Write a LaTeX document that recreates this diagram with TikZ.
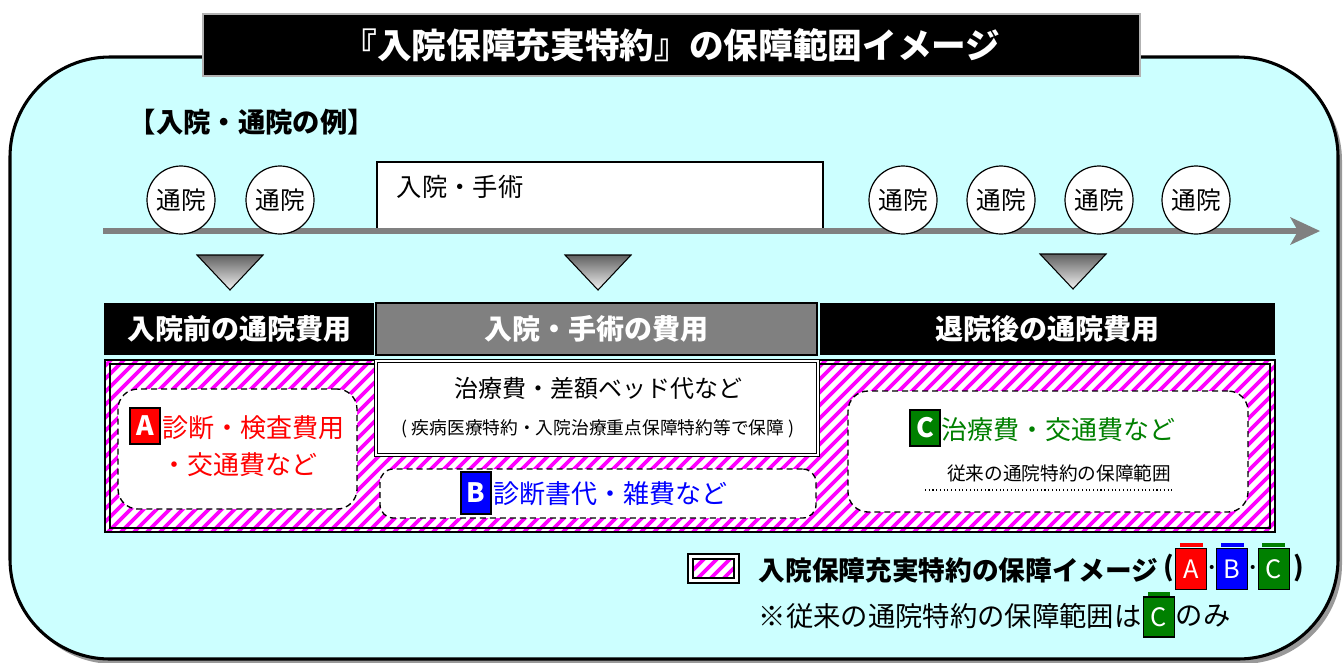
\documentclass[tikz,border=0pt]{standalone}
\usepackage{fontspec}
\setmainfont{Noto Sans CJK JP}
\usetikzlibrary{fit}
\definecolor{bgcyan}{RGB}{204,255,255}
\definecolor{mag}{RGB}{255,0,255}
\definecolor{cgreen}{RGB}{0,128,0}
\definecolor{tlgray}{RGB}{128,128,128}
\newcommand\fsz[1]{\fontsize{#1}{#1}\selectfont}
\begin{document}
\begin{tikzpicture}[x=0.75pt,y=-0.75pt,
  box/.style={inner sep=0pt, outer sep=0pt},
  hdr/.style={box, fill=black},
  hdrtext/.style={text=white, font=\bfseries\fsz{21pt}},
  visit/.style={circle, draw, fill=white, line width=0.9pt, minimum size=51pt, inner sep=0pt, font=\fsz{18.5pt}},
  tri/.style={top color=black!62, bottom color=black!5, draw=black, line width=0.8pt},
  dbox/.style={box, draw, fill=white, dash pattern=on 4.5pt off 3pt, line width=1pt, rounded corners=15pt},
  badge/.style={draw=black, line width=1.3pt, inner sep=0pt, text=white, font=\bfseries\fsz{20pt}, minimum width=22.5pt, minimum height=27pt},
  lbadge/.style={draw=black, line width=1.1pt, inner sep=0pt, text=white, font=\fsz{19pt}, minimum width=23pt, minimum height=31pt},
  hatchline/.style={mag, line width=2.8pt}
]
\useasboundingbox (0,0) rectangle (1344,662);
% background panel
\node[fit={(14,61)(1342,664)}, box, fill=black!40, rounded corners=75pt] (shadow) {};
\node[fit={(10,57)(1338,659)}, box, draw, line width=2.3pt, fill=bgcyan, rounded corners=75pt] (bg) {};
% title
\node[fit={(203,14)(1140,76)}, box, fill=black, draw=black!30, line width=1.5pt] (title) {};
\node[text=white, font=\bfseries\fsz{26pt}] (titletxt) at (title.center) {『入院保障充実特約』の保障範囲イメージ};
% example label
\node[anchor=west, font=\bfseries\fsz{20.5pt}] (ex) at (124,122) {【入院・通院の例】};
% surgery box
\node[fit={(377,162)(823,231)}, box, draw, fill=white, line width=1pt] (surg) {};
\node[anchor=west, font=\fsz{19pt}] (surgtxt) at (392,187) {入院・手術};
% timeline
\coordinate (tl0) at (103,231);
\coordinate (tl1) at (1298,231);
\draw[tlgray, line width=3.8pt] (tl0) -- (tl1);
\fill[tlgray] (1290,217) -- (1320,231) -- (1290,245) -- (1298,231) -- cycle;
% visits
\node[visit] (v1) at (181,200) {通院};
\node[visit] (v2) at (280,200) {通院};
\node[visit] (v3) at (903,200) {通院};
\node[visit] (v4) at (1001,200) {通院};
\node[visit] (v5) at (1099,200) {通院};
\node[visit] (v6) at (1196,200) {通院};
% triangles
\shadedraw[tri] (197,255) -- (263,255) -- (230,290) -- cycle;
\shadedraw[tri] (565,255) -- (631,255) -- (598,290) -- cycle;
\shadedraw[tri] (1040,254) -- (1106,254) -- (1073,289) -- cycle;
% headers
\node[fit={(104,303)(374,355)}, hdr] (h1) {};
\node[hdrtext] (h1t) at (h1.center) {入院前の通院費用};
\node[fit={(376,303)(817,355)}, box, fill=tlgray, draw=black, line width=1pt] (h2) {};
\node[hdrtext] (h2t) at (h2.center) {入院・手術の費用};
\node[fit={(820,303)(1275,355)}, hdr] (h3) {};
\node[hdrtext] (h3t) at (h3.center) {退院後の通院費用};
% hatched region
\fill[white] (105,360) rectangle (1275,532);
\begin{scope}
\clip (105,360) rectangle (1275,532);
\foreach \xx in {-95,-82,...,1280} \draw[hatchline] (\xx,540) -- ++(190,-190);
\end{scope}
\draw[line width=0.9pt] (105,360) rectangle (1275,532);
\draw[line width=0.9pt] (110,364) rectangle (1270,528);
% middle box
\node[fit={(376,361)(818,455)}, box, fill=white, draw=black, double=white, double distance=1.5pt, line width=0.8pt] (mid) {};
\node[font=\fsz{18pt}] (m1) at (598,388) {治療費・差額ベッド代など};
\node[font=\fsz{13.3pt}] (m2) at (598,429) {( 疾病医療特約・入院治療重点保障特約等で保障 )};
% dashed boxes
\node[fit={(118,389)(357,509)}, dbox] (boxA) {};
\node[fit={(380,469)(816,518)}, dbox, rounded corners=10pt] (boxB) {};
\node[fit={(848,391)(1248,512)}, dbox] (boxC) {};
% A
\node[badge, fill=red] (bA) at (145,426) {A};
\node[anchor=west, text=red, font=\fsz{19.5pt}] (tA1) at (158,428) {診断・検査費用};
\node[text=red, font=\fsz{19.5pt}] (tA2) at (239,465) {・交通費など};
% B
\node[badge, fill=blue, minimum height=32pt] (bB) at (476,493) {B};
\node[anchor=west, text=blue, font=\fsz{19.5pt}] (tB) at (489,494) {診断書代・雑費など};
% C
\node[badge, fill=cgreen] (bC) at (925,428) {C};
\node[anchor=west, text=cgreen, font=\fsz{19.5pt}] (tC) at (937,430) {治療費・交通費など};
\node[font=\fsz{14pt}] (tC2) at (1059,473) {従来の通院特約の保障範囲};
\draw[dotted, line width=0.8pt] (925,490) -- (1174,490);
% legend
\fill[white] (688,554) rectangle (739,583);
\draw[line width=0.9pt] (688,554) rectangle (739,583);
\begin{scope}
\clip (693,559) rectangle (734,578);
\foreach \xx in {665,678,...,740} \draw[hatchline] (\xx,585) -- ++(30,-30);
\end{scope}
\draw[line width=0.9pt] (693,559) rectangle (734,578);
\node[anchor=west, font=\bfseries\fsz{20pt}] (leg1) at (754,570) {入院保障充実特約の保障イメージ};
\node[font=\bfseries\fsz{20pt}] (lpo) at (1169,568) {(};
\fill[red] (1180,543) rectangle (1203,547);
\node[lbadge, fill=red] (lA) at (1191,569) {A};
\node[font=\bfseries\fsz{14pt}] (ld1) at (1212,570) {·};
\fill[blue] (1221,543) rectangle (1244,547);
\node[lbadge, fill=blue] (lB) at (1232,569) {B};
\node[font=\bfseries\fsz{14pt}] (ld2) at (1253,570) {·};
\fill[cgreen] (1262,543) rectangle (1285,547);
\node[lbadge, fill=cgreen] (lC) at (1274,569) {C};
\node[font=\bfseries\fsz{20pt}] (lpc) at (1299,568) {)};
\node[anchor=west, font=\fsz{20.5pt}] (leg2) at (754,616) {※従来の通院特約の保障範囲は};
\fill[cgreen] (1148,592) rectangle (1170,596);
\node[lbadge, fill=cgreen, minimum height=30pt] (lC2) at (1159,617) {C};
\node[anchor=west, font=\fsz{20.5pt}] (leg3) at (1171,616) {のみ};
\end{tikzpicture}
\end{document}
